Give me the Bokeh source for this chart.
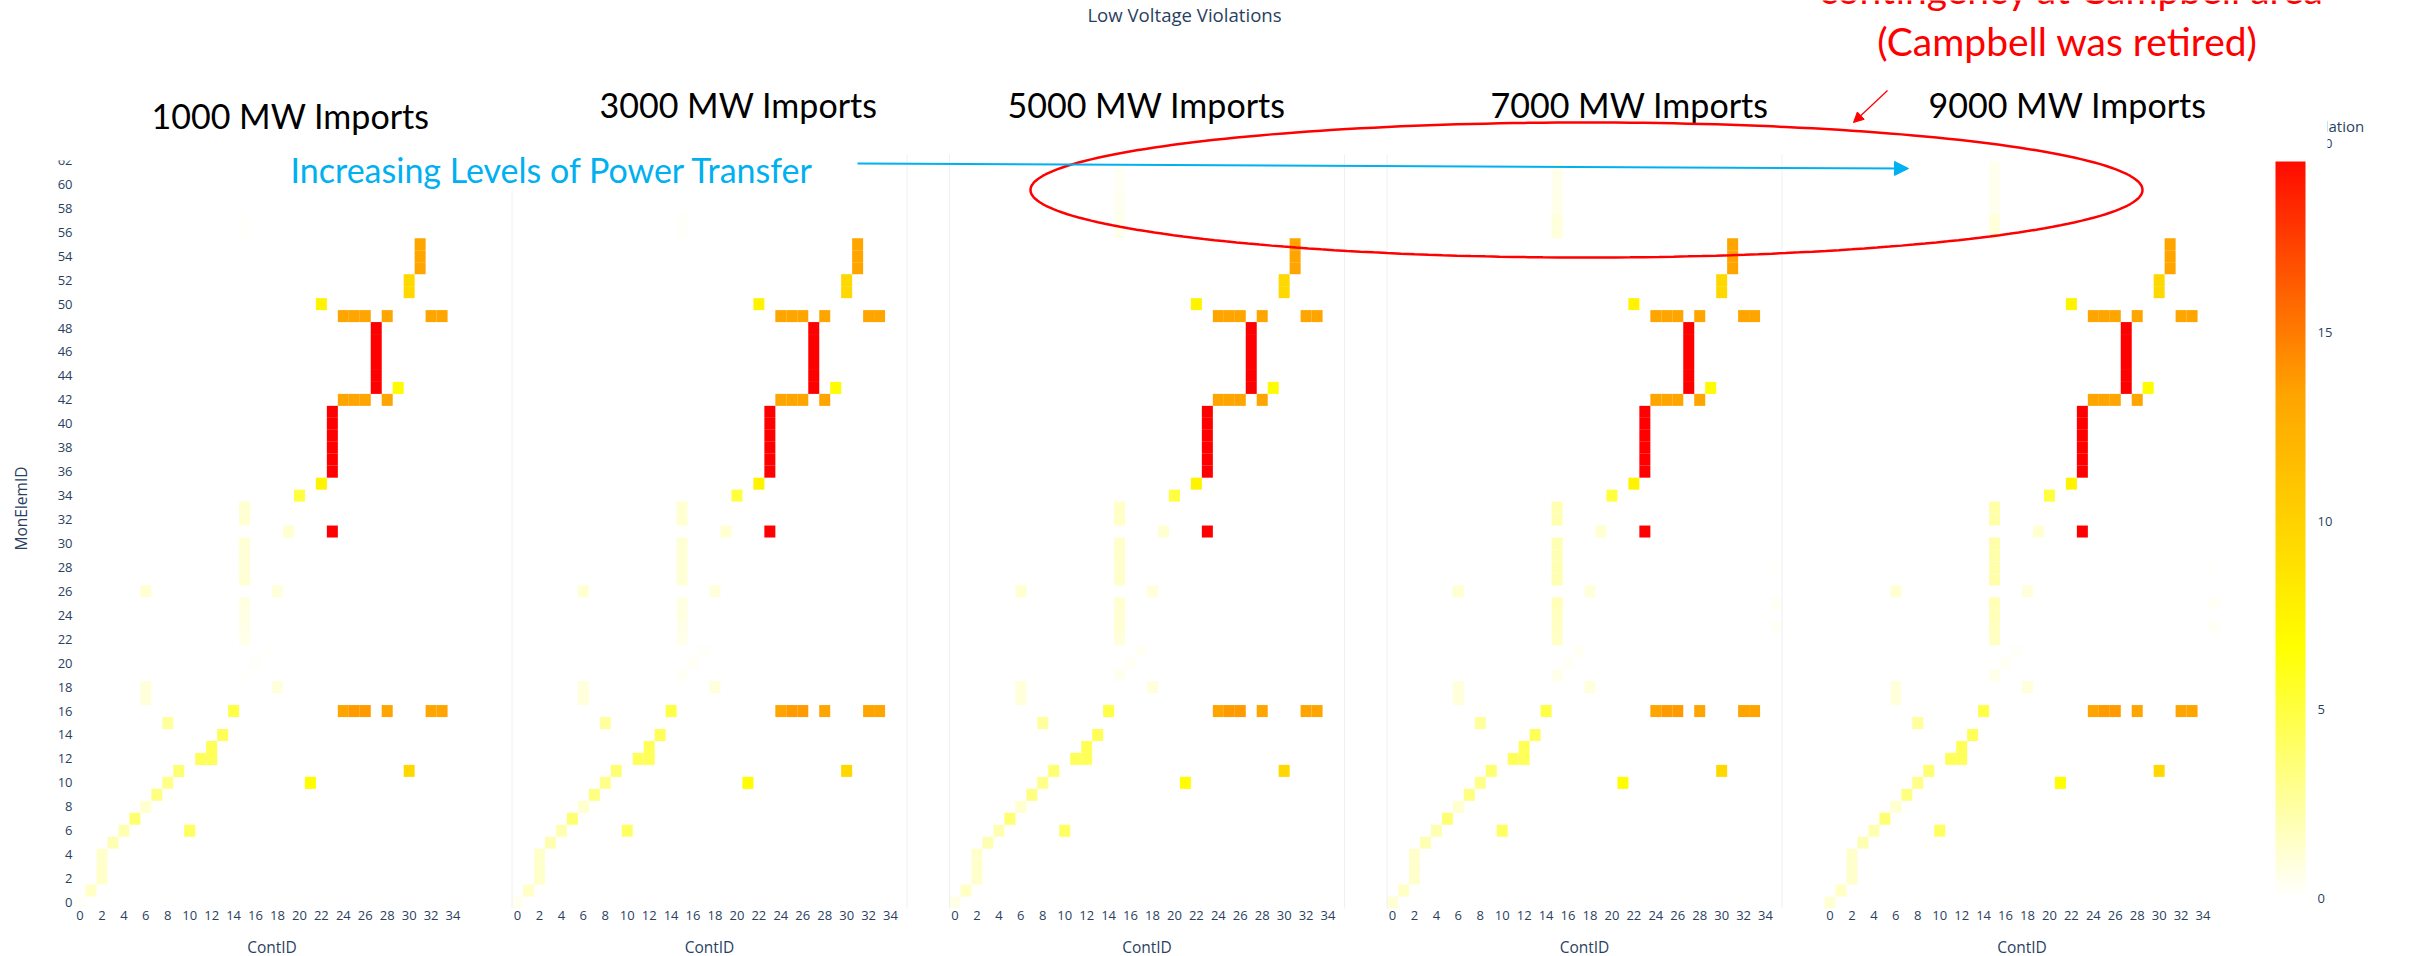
import math

from bokeh.plotting import figure
from bokeh.models import (Range1d, LinearColorMapper, ColorBar, FixedTicker, LinearAxis,
                          Label, Arrow, NormalHead, ColumnDataSource, BoxAnnotation,
                          PolyAnnotation)
from bokeh.transform import transform
from bokeh.embed import file_html
from bokeh.resources import INLINE

# ---------------------------------------------------------------- data
PANEL_TITLES = ["1000 MW Imports", "3000 MW Imports", "5000 MW Imports",
                "7000 MW Imports", "9000 MW Imports"]

# contingency (x) / monitored element (y) of every cell with a violation
CONT_ID = [0, 1, 2, 2, 2, 3, 4, 5, 6, 7,
           8, 9, 10, 11, 12, 12, 13, 14, 8, 6,
           6, 6, 18, 18, 15, 16, 17, 15, 15, 15,
           15, 15, 15, 15, 15, 15, 15, 19, 20, 22,
           23, 23, 23, 23, 23, 23, 23, 24, 25, 26,
           28, 27, 27, 27, 27, 27, 27, 29, 24, 25,
           26, 28, 32, 33, 22, 30, 30, 31, 31, 31,
           21, 30, 24, 25, 26, 28, 32, 33, 15, 15,
           15, 15, 15, 15, 15, 35, 35, 35]
MON_ELEM_ID = [0, 1, 2, 3, 4, 5, 6, 7, 8, 9,
               10, 11, 6, 12, 12, 13, 14, 16, 15, 17,
               18, 26, 18, 26, 19, 20, 21, 22, 23, 24,
               25, 27, 28, 29, 30, 32, 33, 31, 34, 35,
               31, 36, 37, 38, 39, 40, 41, 42, 42, 42,
               42, 43, 44, 45, 46, 47, 48, 43, 49, 49,
               49, 49, 49, 49, 50, 51, 52, 53, 54, 55,
               10, 11, 16, 16, 16, 16, 16, 16, 56, 57,
               58, 59, 60, 61, 62, 23, 25, 28]

VIOL_1000 = [0.2, 1.5, 1.4, 1.4, 1.4, 2.0, 2.1, 3.7, 1.3, 3.3,
             3.1, 3.7, 4.2, 4.3, 4.3, 4.4, 4.4, 4.9, 2.6, 1.0,
             1.0, 1.2, 1.0, 1.0, 0.1, 0.2, 0.15, 0.55, 0.65, 0.75,
             0.8, 1.1, 1.1, 1.1, 1.1, 1.2, 1.2, 1.2, 5.0, 7.5,
             20, 20, 20, 20, 20, 20, 20, 13.3, 13.3, 13.3,
             13.3, 20, 20, 20, 20, 20, 20, 7.0, 13.3, 13.3,
             13.3, 13.3, 13.3, 13.3, 7.5, 9.6, 9.6, 13.3, 13.3, 13.3,
             6.8, 9.6, 13.3, 13.7, 13.7, 13.3, 13.3, 13.3, 0.15, 0.15,
             0, 0, 0, 0, 0, 0, 0, 0]
VIOL_3000 = [0.4, 1.5, 1.4, 1.4, 1.4, 2.0, 2.1, 3.7, 1.3, 3.3,
             3.1, 3.7, 4.2, 4.3, 4.3, 4.4, 4.4, 4.9, 2.6, 1.0,
             1.0, 1.2, 1.0, 1.0, 0.3, 0.25, 0.2, 0.6, 0.7, 0.8,
             0.85, 1.1, 1.1, 1.1, 1.1, 1.2, 1.2, 1.2, 5.0, 7.5,
             20, 20, 20, 20, 20, 20, 20, 13.3, 13.3, 13.3,
             13.3, 20, 20, 20, 20, 20, 20, 7.0, 13.3, 13.3,
             13.3, 13.3, 13.3, 13.3, 7.5, 9.6, 9.6, 13.3, 13.3, 13.3,
             6.8, 9.6, 13.3, 13.7, 13.7, 13.3, 13.3, 13.3, 0.2, 0.2,
             0, 0, 0, 0, 0, 0, 0, 0]
VIOL_5000 = [0.7, 1.5, 1.4, 1.4, 1.4, 2.0, 2.1, 3.7, 1.3, 3.3,
             3.1, 3.7, 4.2, 4.3, 4.3, 4.4, 4.4, 4.9, 2.6, 1.0,
             1.0, 1.2, 1.0, 1.0, 0.4, 0.3, 0.25, 1.0, 1.1, 1.2,
             1.2, 1.4, 1.4, 1.4, 1.4, 1.5, 1.5, 1.2, 5.0, 7.5,
             20, 20, 20, 20, 20, 20, 20, 13.3, 13.3, 13.3,
             13.3, 20, 20, 20, 20, 20, 20, 7.0, 13.3, 13.3,
             13.3, 13.3, 13.3, 13.3, 7.5, 9.6, 9.6, 13.3, 13.3, 13.3,
             6.8, 9.6, 13.3, 13.7, 13.7, 13.3, 13.3, 13.3, 0.5, 0.5,
             0.4, 0.4, 0.3, 0.3, 0.3, 0, 0, 0]
VIOL_7000 = [1.1, 1.5, 1.4, 1.4, 1.4, 2.0, 2.1, 3.7, 1.3, 3.3,
             3.1, 3.7, 4.2, 4.3, 4.3, 4.4, 4.4, 4.9, 2.6, 1.0,
             1.0, 1.2, 1.0, 1.0, 0.6, 0.3, 0.25, 1.5, 1.6, 1.7,
             1.8, 2.0, 2.0, 2.0, 2.0, 2.1, 2.1, 1.2, 5.0, 7.5,
             20, 20, 20, 20, 20, 20, 20, 13.3, 13.3, 13.3,
             13.3, 20, 20, 20, 20, 20, 20, 7.0, 13.3, 13.3,
             13.3, 13.3, 13.3, 13.3, 7.5, 9.6, 9.6, 13.3, 13.3, 13.3,
             6.8, 9.6, 13.3, 13.7, 13.7, 13.3, 13.3, 13.3, 1.0, 1.0,
             0.6, 0.6, 0.6, 0.6, 0.6, 0.3, 0.3, 0.15]
VIOL_9000 = [1.1, 1.5, 1.4, 1.4, 1.4, 2.0, 2.1, 3.7, 1.3, 3.3,
             3.1, 3.7, 4.2, 4.3, 4.3, 4.4, 4.4, 4.9, 2.6, 1.0,
             1.0, 1.2, 1.0, 1.0, 0.6, 0.35, 0.2, 1.6, 1.7, 1.8,
             1.9, 2.2, 2.2, 2.2, 2.2, 2.3, 2.3, 1.2, 5.0, 7.5,
             20, 20, 20, 20, 20, 20, 20, 13.3, 13.3, 13.3,
             13.3, 20, 20, 20, 20, 20, 20, 7.0, 13.3, 13.3,
             13.3, 13.3, 13.3, 13.3, 7.5, 9.6, 9.6, 13.3, 13.3, 13.3,
             6.8, 9.6, 13.3, 13.7, 13.7, 13.3, 13.3, 13.3, 0.95, 0.95,
             0.5, 0.5, 0.5, 0.5, 0.5, 0.3, 0.3, 0.15]
PANEL_VIOLATIONS = [VIOL_1000, VIOL_3000, VIOL_5000, VIOL_7000, VIOL_9000]

X_TICKS = [0, 2, 4, 6, 8, 10, 12, 14, 16, 18, 20, 22, 24, 26, 28, 30, 32, 34]
Y_TICKS = [0, 2, 4, 6, 8, 10, 12, 14, 16, 18, 20, 22, 24, 26, 28, 30,
           32, 34, 36, 38, 40, 42, 44, 46, 48, 50, 52, 54, 56, 58, 60, 62]
COLOR_TICKS = [0, 5, 10, 15, 20]
N_CONT = 36          # ContID 0..35
N_MON = 63           # MonElemID 0..62
V_MAX = 20

# ---------------------------------------------------------------- layout
W, H = 2415, 956
# pixel box of the facet grid; the figure frame itself fills the page
GRID_LEFT, GRID_RIGHT, GRID_BOTTOM = 74, 2219, 908
PANEL_GAP = 3.874                      # gap between facets, in ContID units
STEP = N_CONT + PANEL_GAP
X_LO, X_HI = -0.5, 4 * STEP + N_CONT - 0.5
XS = (GRID_RIGHT - GRID_LEFT) / (X_HI - X_LO)   # pixels per ContID
YS = 11.968                                     # pixels per MonElemID
Y_LO = -0.5


def dx(px):
    return X_LO + (px - GRID_LEFT) / XS


def dy(py):
    return Y_LO + (GRID_BOTTOM - py) / YS


TXT = "#2a3f5f"
PLOTLY_FONT = "Open Sans"
CALLOUT_FONT = "Lato"

# white -> yellow -> orange -> red colour scale
STOPS = [(0.0, (255, 255, 255)), (1 / 3, (255, 255, 0)),
         (2 / 3, (255, 165, 0)), (1.0, (255, 0, 0))]


def scale_color(t):
    for (t0, c0), (t1, c1) in zip(STOPS[:-1], STOPS[1:]):
        if t <= t1:
            f = (t - t0) / (t1 - t0)
            return "#%02x%02x%02x" % tuple(round(a + (b - a) * f) for a, b in zip(c0, c1))
    return "#ff0000"


PALETTE = [scale_color(i / 255) for i in range(256)]
mapper = LinearColorMapper(palette=PALETTE, low=0, high=V_MAX)

p = figure(width=W, height=H, output_backend="svg", toolbar_location=None,
           x_range=Range1d(dx(0), dx(W)), y_range=Range1d(dy(H), dy(0)),
           x_axis_type=None, y_axis_type=None,
           min_border=0, min_border_left=0, min_border_right=0,
           min_border_top=0, min_border_bottom=0,
           outline_line_color=None, background_fill_color="white",
           border_fill_color="white")

# ---------------------------------------------------------------- cells
xs, ys, vs = [], [], []
for k, viol in enumerate(PANEL_VIOLATIONS):
    for c, m, v in zip(CONT_ID, MON_ELEM_ID, viol):
        if v > 0:
            xs.append(c + k * STEP)
            ys.append(m)
            vs.append(v)
src = ColumnDataSource(dict(x=xs, y=ys, v=vs))
p.rect(x="x", y="y", width=1, height=1, source=src,
       fill_color=transform("v", mapper), line_color=None, dilate=True)

# faint facet borders
ex, ey0, ey1 = [], [], []
for k in (1, 2, 3):
    for e in (k * STEP - 0.5, k * STEP + N_CONT - 0.5):
        ex.append(e)
        ey0.append(-0.5)
        ey1.append(N_MON - 0.5)
p.segment(x0=ex, x1=ex, y0=ey0, y1=ey1, line_color="#eef0f5", line_width=1)

# ---------------------------------------------------------------- axes
axis_style = dict(axis_line_color=None, major_tick_line_color=None,
                  minor_tick_line_color=None, major_tick_out=0, major_tick_in=0,
                  minor_tick_out=0, minor_tick_in=0, major_label_standoff=2,
                  major_label_text_font=PLOTLY_FONT,
                  major_label_text_font_size="13px", major_label_text_color=TXT)
yaxis = LinearAxis(ticker=FixedTicker(ticks=Y_TICKS), fixed_location=X_LO, **axis_style)
p.add_layout(yaxis, "left")

x_tick_pos, x_tick_lab = [], {}
for k in range(len(PANEL_TITLES)):
    for t in X_TICKS:
        pos = t + k * STEP
        x_tick_pos.append(pos)
        x_tick_lab[pos] = str(t)
xaxis = LinearAxis(ticker=FixedTicker(ticks=x_tick_pos), major_label_overrides=x_tick_lab,
                   fixed_location=Y_LO, **axis_style)
p.add_layout(xaxis, "below")

cb = ColorBar(color_mapper=mapper, ticker=FixedTicker(ticks=COLOR_TICKS),
              width=30, height=755, location=(2275, 58), padding=0, margin=0,
              major_tick_line_color=None, minor_tick_line_color=None,
              bar_line_color=None, border_line_color=None,
              background_fill_alpha=0, label_standoff=12, level="annotation",
              major_label_text_font=PLOTLY_FONT, major_label_text_font_size="13px",
              major_label_text_color=TXT)
p.add_layout(cb)


def label(text, px, py, size, color, font, align="left", baseline="alphabetic", **kw):
    return Label(x=dx(px), y=dy(py), text=text, text_font=font,
                 text_font_size=f"{size}px", text_color=color,
                 text_align=align, text_baseline=baseline, **kw)


# axis titles
for k in range(len(PANEL_TITLES)):
    p.add_layout(Label(x=k * STEP + (N_CONT - 1) / 2, y=dy(946), text="ContID",
                       text_font=PLOTLY_FONT, text_font_size="15.5px", text_color=TXT,
                       text_align="center", text_baseline="middle"))
p.add_layout(label("MonElemID", 20, 508, 15.5, TXT, PLOTLY_FONT, align="center",
                   baseline="middle", angle=math.pi / 2))
p.add_layout(label("Low Voltage Violations", 1184, 14, 18.6, TXT, PLOTLY_FONT,
                   align="center", baseline="middle"))
p.add_layout(label("Violation", 2302.5, 125.5, 15, TXT, PLOTLY_FONT))

# white text boxes of the callouts (left, right, top, bottom in pixels)
TEXT_BOXES = [(35, 440, 70, 160), (1000, 1290, 70, 161), (1485, 1770, 70, 161),
              (1920, 2327, 70, 161), (285, 825, 145, 190)]
for l, r, t, b in TEXT_BOXES:
    p.add_layout(BoxAnnotation(left=dx(l), right=dx(r), top=dy(t), bottom=dy(b),
                               fill_color="white", fill_alpha=1, line_color=None,
                               level="overlay"))

# facet headings
HEAD_POS = [(151, 114.5), (599, 103.5), (1007, 103.5), (1490, 103.5), (1928, 103.5)]
for title, (hx, hy) in zip(PANEL_TITLES, HEAD_POS):
    p.add_layout(label(title, hx, hy, 34, "black", CALLOUT_FONT, level="overlay"))

p.add_layout(label("Increasing Levels of Power Transfer", 290, 168.5, 34, "#00B0F0",
                   CALLOUT_FONT, level="overlay"))

p.add_layout(label("contingency at Campbell area", 2071, -12, 39, "#FF0000",
                   CALLOUT_FONT, align="center", level="overlay"))
p.add_layout(label("(Campbell was retired)", 2067, 40, 39, "#FF0000",
                   CALLOUT_FONT, align="center", level="overlay"))

# callout ellipse around the Campbell column
EL_CX, EL_CY, EL_RX, EL_RY = 1586, 189.5, 556, 67.5
el_x = [dx(EL_CX + EL_RX * math.cos(2 * math.pi * i / 240)) for i in range(240)]
el_y = [dy(EL_CY + EL_RY * math.sin(2 * math.pi * i / 240)) for i in range(240)]
p.add_layout(PolyAnnotation(xs=el_x, ys=el_y, fill_alpha=0, line_color="#FF0000",
                            line_alpha=1, line_width=2.5, level="overlay"))

p.add_layout(Arrow(x_start=dx(857), y_start=dy(163), x_end=dx(1908), y_end=dy(168),
                   line_color="#00B0F0", line_width=2, level="overlay",
                   end=NormalHead(size=14, fill_color="#00B0F0", line_color="#00B0F0")))
p.add_layout(Arrow(x_start=dx(1887), y_start=dy(90), x_end=dx(1853), y_end=dy(122),
                   line_color="#FF0000", line_width=1.3, level="overlay",
                   end=NormalHead(size=10, fill_color="#FF0000", line_color="#FF0000")))

open("out.html", "w").write(file_html(p, INLINE))
